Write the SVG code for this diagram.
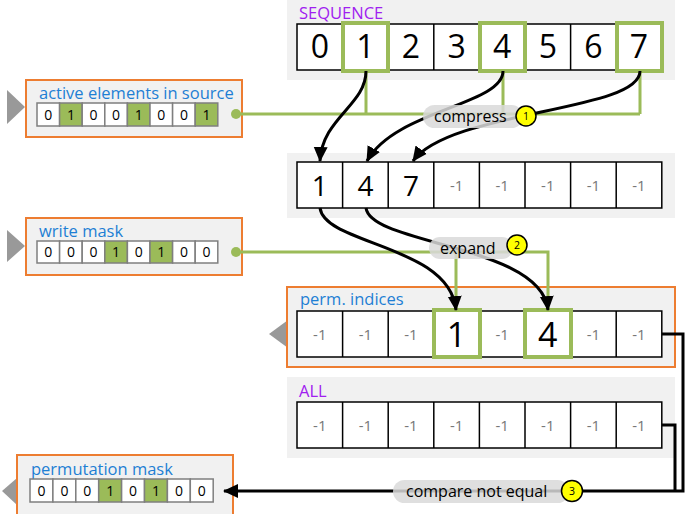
<svg xmlns="http://www.w3.org/2000/svg" width="685" height="514" viewBox="0 0 685 514">
<style>
.panel{fill:#f1f1f1}
.box{fill:#f1f1f1;stroke:#ed7d31;stroke-width:2}
.cell{fill:#fff;stroke:#000;stroke-width:1.5}
.hl{fill:none;stroke:#9bbb59;stroke-width:4}
.mc{fill:#fff;stroke:#7f7f7f;stroke-width:1.5}
.mg{fill:#9bbb59;stroke:#7f7f7f;stroke-width:1.5}
.big{font-family:"Open Sans","Noto Sans",sans-serif;fill:#000;text-anchor:middle}
.neg{font-family:"Open Sans","Noto Sans",sans-serif;font-size:15px;fill:#777;text-anchor:middle}
.bit{font-family:"Open Sans","Noto Sans",sans-serif;font-size:14px;fill:#000;text-anchor:middle}
.lbl{font-family:"Open Sans","Noto Sans",sans-serif;font-size:16.5px;fill:#1e7fd4}
.plbl{font-family:"Open Sans","Noto Sans",sans-serif;font-size:16.5px;fill:#a020f0}
.tri{fill:#999}
.gl{fill:none;stroke:#9bbb59;stroke-width:3}
.bl{fill:none;stroke:#000;stroke-width:3}
.pill{fill:#d9d9d9;opacity:0.85}
.ptxt{font-family:"Open Sans","Noto Sans",sans-serif;font-size:16px;fill:#000}
.num{fill:#ffff00;stroke:#000;stroke-width:1.5}
.ntxt{font-family:"Open Sans","Noto Sans",sans-serif;font-size:10.5px;fill:#000;text-anchor:middle}
</style>
<defs>
<marker id="arr" markerUnits="userSpaceOnUse" markerWidth="16" markerHeight="16" viewBox="0 0 16 16" refX="14" refY="8" orient="auto">
<path d="M0,1 L15,8 L0,15 Z" fill="#000"/>
</marker>
</defs>

<g id="sequence">
<rect class="panel" x="287" y="0" width="388" height="80"/>
<text class="plbl" x="299" y="19">SEQUENCE</text>
<rect class="cell" x="297" y="24" width="364.8" height="46"/>
<path d="M342.6,24V70M388.2,24V70M433.8,24V70M479.4,24V70M525,24V70M570.6,24V70M616.2,24V70" stroke="#000" stroke-width="1.5"/>
<g class="big" font-size="32">
<text x="319.8" y="58">0</text><text x="365.4" y="58">1</text><text x="411" y="58">2</text><text x="456.6" y="58">3</text>
<text x="502.2" y="58">4</text><text x="547.8" y="58">5</text><text x="593.4" y="58">6</text><text x="639" y="58">7</text>
</g>
<rect class="hl" x="343" y="23" width="45" height="48"/>
<rect class="hl" x="480" y="23" width="45" height="48"/>
<rect class="hl" x="617" y="23" width="45" height="48"/>
</g>

<g id="compressed">
<rect class="panel" x="287" y="153" width="388" height="65"/>
<rect class="cell" x="297" y="162" width="364.8" height="46"/>
<path d="M342.6,162V208M388.2,162V208M433.8,162V208M479.4,162V208M525,162V208M570.6,162V208M616.2,162V208" stroke="#000" stroke-width="1.5"/>
<g class="big" font-size="28">
<text x="319.8" y="196">1</text><text x="365.4" y="196">4</text><text x="411" y="196">7</text>
</g>
<text class="neg" x="456.6" y="191">-1</text><text class="neg" x="502.2" y="191">-1</text><text class="neg" x="547.8" y="191">-1</text><text class="neg" x="593.4" y="191">-1</text><text class="neg" x="639" y="191">-1</text>
</g>

<g id="active-elements">
<path class="tri" d="M7,90 L25,107 L7,124 Z"/>
<rect class="box" x="26" y="80" width="216" height="57"/>
<text class="lbl" x="39" y="99">active elements in source</text>
<rect class="mc" x="37" y="103" width="22.6" height="23"/><rect class="mg" x="59.6" y="103" width="22.6" height="23"/>
<rect class="mc" x="82.2" y="103" width="22.6" height="23"/><rect class="mc" x="104.8" y="103" width="22.6" height="23"/>
<rect class="mg" x="127.4" y="103" width="22.6" height="23"/><rect class="mc" x="150" y="103" width="22.6" height="23"/>
<rect class="mc" x="172.6" y="103" width="22.6" height="23"/><rect class="mg" x="195.2" y="103" width="22.6" height="23"/>
<text class="bit" x="48.3" y="120">0</text><text class="bit" x="70.9" y="120">1</text><text class="bit" x="93.5" y="120">0</text><text class="bit" x="116.1" y="120">0</text>
<text class="bit" x="138.7" y="120">1</text><text class="bit" x="161.3" y="120">0</text><text class="bit" x="183.9" y="120">0</text><text class="bit" x="206.5" y="120">1</text>
</g>

<g id="write-mask">
<path class="tri" d="M7,230 L25,246 L7,262 Z"/>
<rect class="box" x="26" y="218" width="216" height="57"/>
<text class="lbl" x="39" y="237">write mask</text>
<rect class="mc" x="37" y="241" width="22.6" height="22"/><rect class="mc" x="59.6" y="241" width="22.6" height="22"/>
<rect class="mc" x="82.2" y="241" width="22.6" height="22"/><rect class="mg" x="104.8" y="241" width="22.6" height="22"/>
<rect class="mc" x="127.4" y="241" width="22.6" height="22"/><rect class="mg" x="150" y="241" width="22.6" height="22"/>
<rect class="mc" x="172.6" y="241" width="22.6" height="22"/><rect class="mc" x="195.2" y="241" width="22.6" height="22"/>
<text class="bit" x="48.3" y="257">0</text><text class="bit" x="70.9" y="257">0</text><text class="bit" x="93.5" y="257">0</text><text class="bit" x="116.1" y="257">1</text>
<text class="bit" x="138.7" y="257">0</text><text class="bit" x="161.3" y="257">1</text><text class="bit" x="183.9" y="257">0</text><text class="bit" x="206.5" y="257">0</text>
</g>

<g id="perm-indices">
<path class="tri" d="M269,334 L288,320 L288,348 Z"/>
<rect class="box" x="287" y="287" width="388" height="80"/>
<text class="lbl" x="300" y="305">perm. indices</text>
<rect class="cell" x="297" y="311" width="364.8" height="46"/>
<path d="M342.6,311V357M388.2,311V357M433.8,311V357M479.4,311V357M525,311V357M570.6,311V357M616.2,311V357" stroke="#000" stroke-width="1.5"/>
<text class="neg" x="319.8" y="340">-1</text><text class="neg" x="365.4" y="340">-1</text><text class="neg" x="411" y="340">-1</text>
<text class="neg" x="502.2" y="340">-1</text><text class="neg" x="593.4" y="340">-1</text><text class="neg" x="639" y="340">-1</text>
<g class="big" font-size="34">
<text x="456.6" y="347">1</text><text x="547.8" y="347">4</text>
</g>
<rect class="hl" x="434" y="310" width="46" height="47"/>
<rect class="hl" x="525" y="310" width="46" height="47"/>
</g>

<g id="all">
<rect class="panel" x="287" y="377" width="388" height="81"/>
<text class="plbl" x="299" y="397">ALL</text>
<rect class="cell" x="297" y="402" width="364.8" height="46"/>
<path d="M342.6,402V448M388.2,402V448M433.8,402V448M479.4,402V448M525,402V448M570.6,402V448M616.2,402V448" stroke="#000" stroke-width="1.5"/>
<text class="neg" x="319.8" y="431">-1</text><text class="neg" x="365.4" y="431">-1</text><text class="neg" x="411" y="431">-1</text><text class="neg" x="456.6" y="431">-1</text>
<text class="neg" x="502.2" y="431">-1</text><text class="neg" x="547.8" y="431">-1</text><text class="neg" x="593.4" y="431">-1</text><text class="neg" x="639" y="431">-1</text>
</g>

<g id="permutation-mask">
<path class="tri" d="M2,491 L17,478 L17,505 Z"/>
<rect class="box" x="17" y="455" width="216" height="60"/>
<text class="lbl" x="31" y="475">permutation mask</text>
<rect class="mc" x="30" y="479" width="22.9" height="23"/><rect class="mc" x="52.9" y="479" width="22.9" height="23"/>
<rect class="mc" x="75.8" y="479" width="22.9" height="23"/><rect class="mg" x="98.7" y="479" width="22.9" height="23"/>
<rect class="mc" x="121.6" y="479" width="22.9" height="23"/><rect class="mg" x="144.5" y="479" width="22.9" height="23"/>
<rect class="mc" x="167.4" y="479" width="22.9" height="23"/><rect class="mc" x="190.3" y="479" width="22.9" height="23"/>
<text class="bit" x="41.5" y="496">0</text><text class="bit" x="64.4" y="496">0</text><text class="bit" x="87.3" y="496">0</text><text class="bit" x="110.2" y="496">1</text>
<text class="bit" x="133.1" y="496">0</text><text class="bit" x="156" y="496">1</text><text class="bit" x="178.9" y="496">0</text><text class="bit" x="201.8" y="496">0</text>
</g>

<g id="connectors">
<path class="gl" d="M236,114H640M366,72V114M503,72V114M640,72V114"/>
<circle cx="236" cy="114" r="5" fill="#9bbb59"/>
<path class="gl" d="M236,252H548V309M456,252V309"/>
<circle cx="236" cy="252" r="5" fill="#9bbb59"/>
<path class="bl" d="M366,71C366,105 322,118 320,161" marker-end="url(#arr)"/>
<path class="bl" d="M503,71C503,105 395,110 367,161" marker-end="url(#arr)"/>
<path class="bl" d="M640,71C640,112 450,110 413,161" marker-end="url(#arr)"/>
<path class="bl" d="M320,208C325,245 450,245 456,310" marker-end="url(#arr)"/>
<path class="bl" d="M366,208C371,245 542,245 548,310" marker-end="url(#arr)"/>
<path class="bl" d="M662,334H683V491H224" marker-end="url(#arr)"/>
<path class="bl" d="M662,425H675V491"/>
<g id="label-compress">
<rect class="pill" x="423" y="105" width="100" height="23" rx="11.5"/>
<text class="ptxt" x="434" y="122">compress</text>
<circle class="num" cx="526" cy="116" r="10"/>
<text class="ntxt" x="526" y="120">1</text>
</g>
<g id="label-expand">
<rect class="pill" x="429" y="237" width="84" height="22" rx="11"/>
<text class="ptxt" x="440" y="254">expand</text>
<circle class="num" cx="517" cy="245" r="10"/>
<text class="ntxt" x="517" y="249">2</text>
</g>
<g id="label-compare">
<rect class="pill" x="393" y="480" width="176" height="23" rx="11.5"/>
<text class="ptxt" x="406" y="497">compare not equal</text>
<circle class="num" cx="572" cy="491" r="10.5"/>
<text class="ntxt" x="572" y="495">3</text>
</g>
</g>
</svg>
